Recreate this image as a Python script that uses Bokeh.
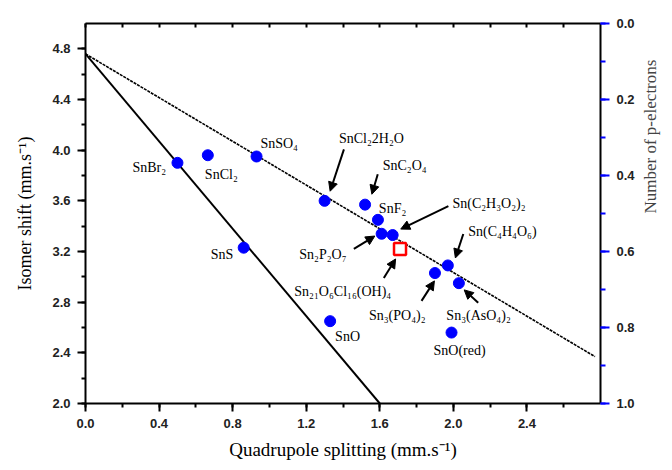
import math
from bokeh.plotting import figure
from bokeh.models import (ColumnDataSource, Range1d, LinearAxis, SingleIntervalTicker,
                          PrintfTickFormatter, Arrow, NormalHead)
from bokeh.core.properties import value
from bokeh.embed import file_html
from bokeh.resources import INLINE

# ---- data ----
compounds = ["SnBr2", "SnCl2", "SnSO4", "SnCl2.2H2O", "SnC2O4", "SnF2", "Sn2P2O7",
             "Sn(C2H3O2)2", "Sn(C4H4O6)", "Sn3(PO4)2", "Sn3(AsO4)2", "SnO(red)", "SnO", "SnS"]
quad_split = [0.50, 0.665, 0.93, 1.30, 1.52, 1.59, 1.61, 1.67, 1.97, 1.90, 2.03, 1.99, 1.33, 0.86]
isomer_shift = [3.90, 3.96, 3.95, 3.60, 3.57, 3.45, 3.34, 3.33, 3.09, 3.03, 2.95, 2.56, 2.65, 3.23]

special_name = ["Sn21O6Cl16(OH)4"]
special_qs = [1.71]
special_is = [3.22]

line_solid_x = [0.0, 1.6]
line_solid_y = [4.76, 2.0]
line_dash_x = [0.0, 2.77]
line_dash_y = [4.76, 2.37]

label_text = ["SnBr₂", "SnCl₂", "SnSO₄", "SnCl₂2H₂O", "SnC₂O₄", "SnF₂", "Sn(C₂H₃O₂)₂",
              "Sn(C₄H₄O₆)", "Sn₂P₂O₇", "Sn₂₁O₆Cl₁₆(OH)₄", "Sn₃(PO₄)₂", "Sn₃(AsO₄)₂",
              "SnO(red)", "SnO", "SnS"]
label_x = [0.438, 0.649, 0.951, 1.378, 1.616, 1.595, 1.995, 2.081, 1.162, 1.135, 1.541, 1.962, 1.892, 1.357, 0.681]
label_y = [3.865, 3.81, 4.053, 4.093, 3.88, 3.542, 3.581, 3.361, 3.18, 2.881, 2.692, 2.692, 2.417, 2.527, 3.18]
label_align = ["right"] + ["left"] * 14

arrow_x0 = [1.405, 1.589, 1.973, 1.459, 1.622, 2.054, 1.827, 2.135]
arrow_y0 = [4.006, 3.810, 3.558, 3.220, 2.991, 3.338, 2.810, 2.795]
arrow_x1 = [1.330, 1.557, 1.714, 1.573, 1.686, 2.011, 1.897, 2.059]
arrow_y1 = [3.676, 3.652, 3.377, 3.322, 3.141, 3.149, 2.968, 2.897]

# ---- figure ----
p = figure(width=672, height=470, x_range=Range1d(0.0, 2.8), y_range=Range1d(2.0, 5.0),
           output_backend="svg", toolbar_location=None,
           min_border_left=85, min_border_right=69, min_border_top=23, min_border_bottom=67)
p.xgrid.visible = False
p.ygrid.visible = False
p.outline_line_color = None
p.background_fill_color = "white"
p.border_fill_color = "white"

serif = value("Liberation Serif")

# bottom axis
xa = p.xaxis[0]
xa.ticker = SingleIntervalTicker(interval=0.4, num_minor_ticks=2)
xa.formatter = PrintfTickFormatter(format="%.1f")
xa.axis_label = "Quadrupole splitting (mm.s⁻¹)"
# left axis
ya = p.yaxis[0]
ya.ticker = SingleIntervalTicker(interval=0.4, num_minor_ticks=2)
ya.formatter = PrintfTickFormatter(format="%.1f")
ya.axis_label = "Isomer shift (mm.s⁻¹)"

for ax in (xa, ya):
    ax.axis_line_width = 2
    ax.axis_line_color = "black"
    ax.major_tick_line_width = 2
    ax.minor_tick_line_width = 2
    ax.major_tick_out = 8
    ax.major_tick_in = 0
    ax.minor_tick_out = 4
    ax.minor_tick_in = 0
    ax.major_label_text_font = "Liberation Sans"
    ax.major_label_text_font_size = "13px"
    ax.major_label_text_font_style = "bold"
    ax.major_label_text_color = "#222222"
    ax.axis_label_text_font = "Liberation Serif"
    ax.axis_label_text_font_style = "normal"
    ax.axis_label_text_color = "black"
xa.axis_label_text_font_size = "19px"
ya.axis_label_text_font_size = "18px"
xa.major_label_standoff = 7
xa.axis_label_standoff = 8
ya.major_label_standoff = 7
ya.axis_label_standoff = 14

# top axis (frame with inward ticks, no labels)
top = LinearAxis(ticker=SingleIntervalTicker(interval=0.2, num_minor_ticks=0),
                 formatter=PrintfTickFormatter(format=""),
                 major_tick_in=4, major_tick_out=0,
                 minor_tick_in=0, minor_tick_out=0, axis_line_width=2,
                 major_tick_line_width=2)
p.add_layout(top, "above")

# right axis: number of p-electrons (inverted)
p.extra_y_ranges = {"pe": Range1d(start=1.0, end=0.0)}
right = LinearAxis(y_range_name="pe",
                   ticker=SingleIntervalTicker(interval=0.2, num_minor_ticks=2),
                   formatter=PrintfTickFormatter(format="%.1f"),
                   axis_label="Number of p-electrons",
                   axis_label_orientation=math.pi / 2,
                   axis_line_width=2, axis_line_color="black",
                   major_tick_line_color="blue", minor_tick_line_color="blue",
                   major_tick_line_width=2, minor_tick_line_width=2,
                   major_tick_out=9, major_tick_in=0, minor_tick_out=5, minor_tick_in=0,
                   major_label_standoff=7,
                   major_label_text_font="Liberation Sans", major_label_text_font_size="13px",
                   major_label_text_font_style="bold", major_label_text_color="#222222",
                   axis_label_text_font="Liberation Serif", axis_label_text_font_size="17px",
                   axis_label_text_font_style="normal", axis_label_standoff=13)
p.add_layout(right, "right")

# lines
p.line(line_solid_x, line_solid_y, line_color="black", line_width=2)
p.line(line_dash_x, line_dash_y, line_color="black", line_width=1.6, line_dash="3 1")

# points
src = ColumnDataSource(dict(x=quad_split, y=isomer_shift, name=compounds))
p.scatter("x", "y", source=src, marker="circle", size=11, fill_color="#0000ff",
          line_color="#0000ff")
p.scatter(special_qs, special_is, marker="square", size=12, fill_color="white",
          line_color="red", line_width=2.5)

# labels
lsrc = ColumnDataSource(dict(x=label_x, y=label_y, t=label_text, a=label_align))
p.text("x", "y", text="t", source=lsrc, text_align="a", text_baseline="middle",
       text_font=serif, text_font_size="14px", text_color="black")

# arrows
asrc = ColumnDataSource(dict(x0=arrow_x0, y0=arrow_y0, x1=arrow_x1, y1=arrow_y1))
p.add_layout(Arrow(x_start="x0", y_start="y0", x_end="x1", y_end="y1", source=asrc,
                   line_width=2, line_color="black",
                   end=NormalHead(size=9, fill_color="black", line_color="black")))

open("out.html", "w").write(file_html(p, INLINE))
